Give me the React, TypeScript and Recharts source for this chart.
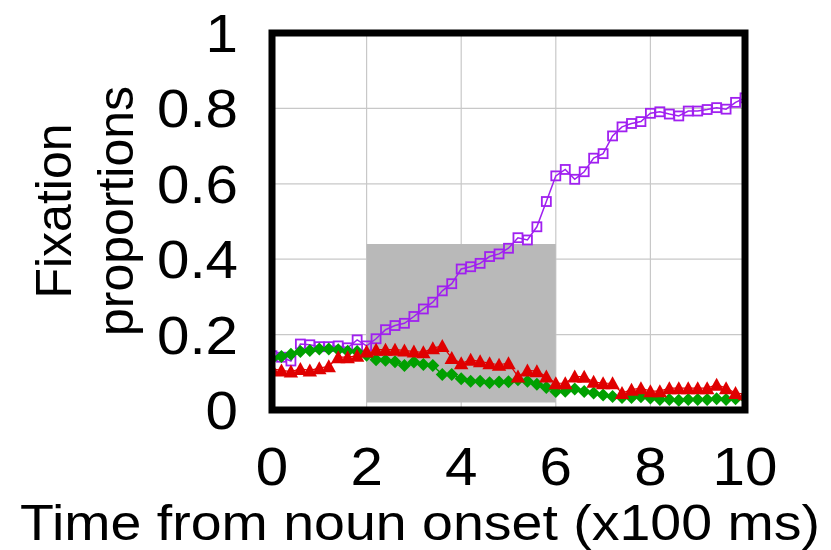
import React from 'react';
import { ComposedChart, Line, XAxis, YAxis, CartesianGrid, ReferenceArea } from 'recharts';

// Time bins (x100 ms from noun onset)
const times = [
  0, 0.2, 0.4, 0.6, 0.8, 1, 1.2, 1.4, 1.6, 1.8,
  2, 2.2, 2.4, 2.6, 2.8, 3, 3.2, 3.4, 3.6, 3.8,
  4, 4.2, 4.4, 4.6, 4.8, 5, 5.2, 5.4, 5.6, 5.8,
  6, 6.2, 6.4, 6.6, 6.8, 7, 7.2, 7.4, 7.6, 7.8,
  8, 8.2, 8.4, 8.6, 8.8, 9, 9.2, 9.4, 9.6, 9.8, 10,
];

// Purple open squares
const target = [
  0.144, 0.140, 0.130, 0.175, 0.173, 0.168, 0.168, 0.170, 0.165, 0.186,
  0.170, 0.189, 0.213, 0.224, 0.230, 0.248, 0.268, 0.286, 0.316, 0.335,
  0.374, 0.380, 0.389, 0.407, 0.414, 0.429, 0.457, 0.451, 0.486, 0.553,
  0.621, 0.638, 0.612, 0.632, 0.668, 0.680, 0.727, 0.751, 0.760, 0.765,
  0.787, 0.791, 0.785, 0.780, 0.793, 0.793, 0.797, 0.802, 0.798, 0.816, 0.828,
];

// Red triangles
const competitor = [
  0.109, 0.105, 0.102, 0.109, 0.105, 0.111, 0.116, 0.140, 0.140, 0.144,
  0.155, 0.160, 0.160, 0.160, 0.158, 0.155, 0.153, 0.164, 0.170, 0.138,
  0.124, 0.133, 0.129, 0.124, 0.120, 0.124, 0.089, 0.105, 0.103, 0.089,
  0.071, 0.071, 0.089, 0.088, 0.075, 0.071, 0.071, 0.045, 0.054, 0.058,
  0.050, 0.050, 0.058, 0.058, 0.058, 0.058, 0.058, 0.067, 0.058, 0.045, 0.042,
];

// Green diamonds
const distractor = [
  0.136, 0.142, 0.148, 0.155, 0.158, 0.162, 0.162, 0.160, 0.156, 0.155,
  0.145, 0.133, 0.132, 0.128, 0.118, 0.127, 0.121, 0.118, 0.094, 0.094,
  0.083, 0.076, 0.076, 0.072, 0.074, 0.075, 0.080, 0.076, 0.068, 0.060,
  0.049, 0.050, 0.056, 0.049, 0.045, 0.040, 0.036, 0.033, 0.033, 0.035,
  0.032, 0.028, 0.028, 0.026, 0.028, 0.028, 0.028, 0.030, 0.028, 0.030, 0.032,
];

const xTicks = [0, 2, 4, 6, 8, 10];
const yTicks = [0, 0.2, 0.4, 0.6, 0.8, 1];
const yTickLabels = ['0', '0.2', '0.4', '0.6', '0.8', '1'];
const xTitle = 'Time from noun onset (x100 ms)';
const yTitleLines = ['Fixation', 'proportions'];

// Shaded analysis window
const windowX = [2, 6];
const windowY = [0.02, 0.44];

const FONT = '"Liberation Sans", Arial, Helvetica, sans-serif';
const PURPLE = '#a020f0';
const RED = '#e00000';
const GREEN = '#00a000';

const data = times.map((t, i) => ({
  t,
  target: target[i],
  competitor: competitor[i],
  distractor: distractor[i],
}));

const SquareDot = (p: any) => {
  if (p.cx == null || p.cy == null) return <g key={`s${p.index}`} />;
  return (
    <rect key={`s${p.index}`} x={p.cx - 4.5} y={p.cy - 4.5} width={9} height={9}
      fill="none" stroke={PURPLE} strokeWidth={1.8} />
  );
};

const TriangleDot = (p: any) => {
  if (p.cx == null || p.cy == null) return <g key={`t${p.index}`} />;
  const { cx, cy } = p;
  return (
    <path key={`t${p.index}`} d={`M${cx},${cy - 7}L${cx + 7.2},${cy + 6}L${cx - 7.2},${cy + 6}Z`}
      fill={RED} stroke="none" />
  );
};

const DiamondDot = (p: any) => {
  if (p.cx == null || p.cy == null) return <g key={`d${p.index}`} />;
  const { cx, cy } = p;
  return (
    <path key={`d${p.index}`} d={`M${cx},${cy - 6.5}L${cx + 6.5},${cy}L${cx},${cy + 6.5}L${cx - 6.5},${cy}Z`}
      fill={GREEN} stroke="none" />
  );
};

const XTick = (p: any) => {
  const v = p.payload.value;
  return (
    <text transform={`translate(${p.x},485) scale(1.1,1)`} textAnchor="middle"
      fontSize={53} fontFamily={FONT} fill="#000">{String(v)}</text>
  );
};

const YTick = (p: any) => {
  const idx = yTicks.indexOf(p.payload.value);
  const label = idx >= 0 ? yTickLabels[idx] : String(p.payload.value);
  return (
    <text transform={`translate(238,${p.y + 19}) scale(1.1,1)`} textAnchor="end"
      fontSize={53} fontFamily={FONT} fill="#000">{label}</text>
  );
};

const XTitle = () => (
  <text transform="translate(420,540) scale(1.11,1)" textAnchor="middle"
    fontSize={50} fontFamily={FONT} fill="#000">{xTitle}</text>
);

const YTitle = () => (
  <g>
    <text transform="translate(71,211) rotate(-90)" textAnchor="middle"
      fontSize={50} fontFamily={FONT} fill="#000">{yTitleLines[0]}</text>
    <text transform="translate(133,211) rotate(-90)" textAnchor="middle"
      fontSize={50} fontFamily={FONT} fill="#000">{yTitleLines[1]}</text>
  </g>
);

const MARGIN = { top: 33, right: 86, bottom: 0, left: 0 };
const Y_AXIS_W = 272;
const X_AXIS_H = 140;

export default function App() {
  return (
    <div style={{ position: 'absolute', left: 0, top: 0, width: 831, height: 550, background: '#fff' }}>
      <div style={{ position: 'absolute', left: 0, top: 0 }}>
        <ComposedChart width={831} height={550} data={data} margin={MARGIN}>
          <CartesianGrid stroke="#c8c8c8" strokeWidth={1.2} />
          <XAxis dataKey="t" type="number" domain={[0, 10]} ticks={xTicks} height={X_AXIS_H}
            axisLine={false} tickLine={false} tick={XTick} interval={0} allowDataOverflow
            label={{ content: XTitle }} />
          <YAxis type="number" domain={[0, 1]} ticks={yTicks} width={Y_AXIS_W}
            axisLine={false} tickLine={false} tick={YTick} interval={0} allowDataOverflow
            label={{ content: YTitle }} />
          <ReferenceArea x1={windowX[0]} x2={windowX[1]} y1={windowY[0]} y2={windowY[1]}
            fill="#b9b9b9" fillOpacity={1} stroke="none" />
          <Line dataKey="target" stroke={PURPLE} strokeWidth={1.5} dot={SquareDot}
            activeDot={false} isAnimationActive={false} />
          <Line dataKey="distractor" stroke={GREEN} strokeWidth={1.5} dot={DiamondDot}
            activeDot={false} isAnimationActive={false} />
          <Line dataKey="competitor" stroke={RED} strokeWidth={1.2} dot={TriangleDot}
            activeDot={false} isAnimationActive={false} />
        </ComposedChart>
      </div>
      {/* Overlay chart: same scales, draws only the thick plot frame above the series */}
      <div style={{ position: 'absolute', left: 0, top: 0, pointerEvents: 'none' }}>
        <ComposedChart width={831} height={550} data={data} margin={MARGIN}
          style={{ background: 'transparent' }}>
          <XAxis dataKey="t" type="number" domain={[0, 10]} ticks={xTicks} height={X_AXIS_H}
            axisLine={false} tickLine={false} tick={false} />
          <YAxis type="number" domain={[0, 1]} ticks={yTicks} width={Y_AXIS_W}
            axisLine={false} tickLine={false} tick={false} />
          <Line dataKey="target" stroke="none" strokeOpacity={0} dot={false}
            activeDot={false} isAnimationActive={false} />
          <ReferenceArea x1={0} x2={10} y1={0} y2={1} fill="none" fillOpacity={0}
            stroke="#000" strokeWidth={7} ifOverflow="visible" />
        </ComposedChart>
      </div>
    </div>
  );
}
